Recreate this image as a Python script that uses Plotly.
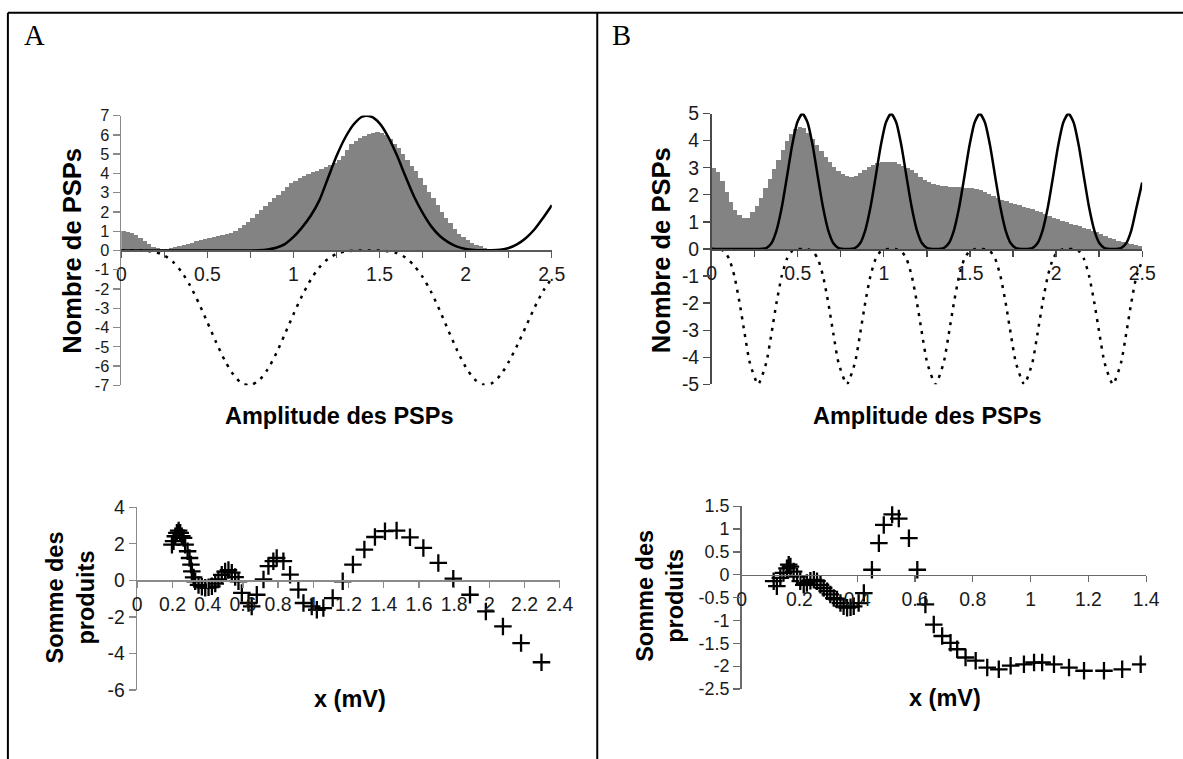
import plotly.graph_objects as go

W, H = 1183, 759

# ---------------- data ----------------
BIN = 0.025
HIST_A = [1.0, 0.98, 0.93, 0.82, 0.65, 0.48, 0.32, 0.2, 0.12, 0.09,
          0.1, 0.13, 0.17, 0.22, 0.28, 0.34, 0.41, 0.47, 0.53, 0.6,
          0.66, 0.7, 0.75, 0.8, 0.86, 0.93, 1.02, 1.15, 1.3, 1.48,
          1.68, 1.88, 2.08, 2.3, 2.5, 2.7, 2.9, 3.1, 3.3, 3.5,
          3.62, 3.75, 3.88, 3.97, 4.06, 4.15, 4.25, 4.35, 4.45, 4.55,
          4.7, 4.9, 5.2, 5.5, 5.7, 5.85, 5.95, 6.05, 6.1, 6.15,
          6.12, 6.0, 5.8, 5.55, 5.3, 5.0, 4.7, 4.4, 4.1, 3.75,
          3.4, 3.05, 2.7, 2.35, 2.0, 1.7, 1.4, 1.12, 0.88, 0.68,
          0.52, 0.4, 0.3, 0.21, 0.15, 0.1, 0.06, 0.04, 0.02, 0.01,
          0.01, 0.01, 0, 0, 0, 0, 0, 0, 0, 0]
HIST_B = [3.0, 2.85, 2.5, 2.1, 1.75, 1.45, 1.25, 1.13, 1.15, 1.35,
          1.6, 1.9, 2.25, 2.6, 2.95, 3.3, 3.65, 4.0, 4.25, 4.42,
          4.5, 4.45, 4.3, 4.08, 3.85, 3.6, 3.38, 3.2, 3.02, 2.88,
          2.76, 2.7, 2.67, 2.7, 2.8, 2.9, 3.02, 3.1, 3.16, 3.2,
          3.22, 3.22, 3.2, 3.15, 3.08, 3.0, 2.92, 2.8, 2.66, 2.55,
          2.46, 2.41, 2.37, 2.34, 2.31, 2.3, 2.29, 2.28, 2.27, 2.26,
          2.25, 2.22, 2.18, 2.12, 2.03, 1.94, 1.88, 1.82, 1.76, 1.71,
          1.66, 1.61, 1.56, 1.51, 1.46, 1.41, 1.36, 1.3, 1.23, 1.16,
          1.09, 1.03, 0.98, 0.93, 0.88, 0.83, 0.78, 0.73, 0.67, 0.61,
          0.55, 0.49, 0.42, 0.36, 0.31, 0.26, 0.21, 0.17, 0.14, 0.11]

CURVE_X_A = [0, 0.05, 0.1, 0.15, 0.2, 0.25, 0.3, 0.35, 0.4, 0.45,
             0.5, 0.55, 0.6, 0.65, 0.7, 0.75, 0.8, 0.85, 0.9, 0.95,
             1.0, 1.05, 1.1, 1.15, 1.2, 1.25, 1.3, 1.35, 1.4, 1.45,
             1.5, 1.55, 1.6, 1.65, 1.7, 1.75, 1.8, 1.85, 1.9, 1.95,
             2.0, 2.05, 2.1, 2.15, 2.2, 2.25, 2.3, 2.35, 2.4, 2.45, 2.5]
SOLID_A = [0, 0, 0, 0, 0, 0, 0, 0, 0, 0,
           0, 0, 0, 0, 0, 0.0, 0.01, 0.05, 0.14, 0.33,
           0.7, 1.2, 1.8, 2.6, 3.75, 4.9, 5.85, 6.55, 6.95, 6.95,
           6.6, 5.9, 4.95, 3.85, 2.8, 1.95, 1.25, 0.75, 0.42, 0.2,
           0.08, 0.03, 0.01, 0.01, 0.04, 0.13, 0.33, 0.65, 1.1, 1.7, 2.35]
DOTTED_A = [0, 0, 0, -0.02, -0.09, -0.26, -0.59, -1.11, -1.83, -2.73,
            -3.73, -4.75, -5.69, -6.43, -6.89, -6.99, -6.74, -6.17, -5.34, -4.34,
            -3.31, -2.35, -1.52, -0.88, -0.44, -0.18, -0.05, -0.01, 0, 0,
            0, -0.04, -0.14, -0.37, -0.78, -1.38, -2.17, -3.13, -4.17, -5.18,
            -6.05, -6.67, -6.96, -6.9, -6.49, -5.78, -4.91, -3.94, -2.96, -2.1,
            -1.45]

B_SOLID_X = [0, 0.1, 0.2, 0.27,
             0.317, 0.347, 0.377, 0.407, 0.437, 0.467, 0.497, 0.527, 0.557, 0.587, 0.617, 0.647, 0.677, 0.707, 0.737, 0.785,
             0.832, 0.862, 0.892, 0.922, 0.952, 0.982, 1.012, 1.042, 1.072, 1.102, 1.132, 1.162, 1.192, 1.222, 1.252, 1.3,
             1.347, 1.377, 1.407, 1.437, 1.467, 1.497, 1.527, 1.557, 1.587, 1.617, 1.647, 1.677, 1.707, 1.737, 1.767, 1.815,
             1.862, 1.892, 1.922, 1.952, 1.982, 2.012, 2.042, 2.072, 2.102, 2.132, 2.162, 2.192, 2.222, 2.252, 2.282, 2.33,
             2.377, 2.407, 2.437, 2.467, 2.5]
B_SOLID_Y = [0, 0, 0, 0,
             0.03, 0.21, 0.69, 1.53, 2.65, 3.81, 4.67, 5, 4.67, 3.81, 2.65, 1.53, 0.69, 0.21, 0.03, 0,
             0.03, 0.21, 0.69, 1.53, 2.65, 3.81, 4.67, 5, 4.67, 3.81, 2.65, 1.53, 0.69, 0.21, 0.03, 0,
             0.03, 0.21, 0.69, 1.53, 2.65, 3.81, 4.67, 5, 4.67, 3.81, 2.65, 1.53, 0.69, 0.21, 0.03, 0,
             0.03, 0.21, 0.69, 1.53, 2.65, 3.81, 4.67, 5, 4.67, 3.81, 2.65, 1.53, 0.69, 0.21, 0.03, 0,
             0.03, 0.21, 0.69, 1.53, 2.45]
B_DOT_X = [0, 0.012, 0.042, 0.072, 0.102, 0.132, 0.162, 0.192, 0.222, 0.27,
           0.317, 0.347, 0.377, 0.407, 0.437, 0.467, 0.497, 0.527, 0.557, 0.587, 0.617, 0.647, 0.677, 0.707, 0.737, 0.785,
           0.832, 0.862, 0.892, 0.922, 0.952, 0.982, 1.012, 1.042, 1.072, 1.102, 1.132, 1.162, 1.192, 1.222, 1.252, 1.3,
           1.347, 1.377, 1.407, 1.437, 1.467, 1.497, 1.527, 1.557, 1.587, 1.617, 1.647, 1.677, 1.707, 1.737, 1.767, 1.815,
           1.862, 1.892, 1.922, 1.952, 1.982, 2.012, 2.042, 2.072, 2.102, 2.132, 2.162, 2.192, 2.222, 2.252, 2.282, 2.33,
           2.377, 2.407, 2.437, 2.467, 2.5]
B_DOT_Y = [0, 0, -0.01, -0.08, -0.37, -1.0, -1.98, -3.14, -4.21, -5,
           -4.21, -3.14, -1.98, -1.0, -0.37, -0.08, -0.01, 0, -0.01, -0.08, -0.37, -1.0, -1.98, -3.14, -4.21, -5,
           -4.21, -3.14, -1.98, -1.0, -0.37, -0.08, -0.01, 0, -0.01, -0.08, -0.37, -1.0, -1.98, -3.14, -4.21, -5,
           -4.21, -3.14, -1.98, -1.0, -0.37, -0.08, -0.01, 0, -0.01, -0.08, -0.37, -1.0, -1.98, -3.14, -4.21, -5,
           -4.21, -3.14, -1.98, -1.0, -0.37, -0.08, -0.01, 0, -0.01, -0.08, -0.37, -1.0, -1.98, -3.14, -4.21, -5,
           -4.21, -3.14, -1.98, -1.0, -0.45]

SA_X = [0.197, 0.206, 0.216, 0.225, 0.235, 0.244, 0.253, 0.263, 0.272, 0.286, 0.297, 0.305, 0.31, 0.32, 0.329,
        0.348, 0.367, 0.386, 0.405, 0.424, 0.443, 0.461, 0.48, 0.499, 0.518, 0.537, 0.556, 0.575,
        0.594, 0.632, 0.65, 0.679, 0.717, 0.745, 0.773, 0.792, 0.83, 0.868,
        0.915, 0.944, 0.991, 1.02, 1.057, 1.11, 1.167, 1.225, 1.29, 1.35,
        1.407, 1.473, 1.549, 1.625, 1.71, 1.795, 1.89, 1.98, 2.077, 2.18, 2.296]
SA_Y = [1.95, 2.14, 2.41, 2.6, 2.72, 2.6, 2.41, 2.32, 1.95, 1.59, 1.22, 0.86, 0.49, 0.16, -0.05,
        -0.25, -0.35, -0.4, -0.38, -0.33, -0.18, 0.05, 0.3, 0.48, 0.56, 0.42, 0.18, -0.05,
        -0.69, -1.24, -1.43, -0.79, 0.05, 0.78, 1.05, 1.22, 1.05, 0.31,
        -0.51, -1.24, -1.43, -1.61, -1.52, -0.97, -0.05, 0.86, 1.68, 2.37,
        2.69, 2.72, 2.35, 1.77, 0.95, 0.09, -0.79, -1.7, -2.52, -3.43, -4.48]
SB_X = [0.111, 0.122, 0.134, 0.145, 0.157, 0.163, 0.169, 0.18, 0.192, 0.203,
        0.215, 0.226, 0.238, 0.25, 0.261, 0.273, 0.284, 0.296, 0.307, 0.319,
        0.33, 0.342, 0.353, 0.365, 0.377, 0.388, 0.405, 0.423,
        0.451, 0.475, 0.492, 0.521, 0.544, 0.579, 0.608, 0.636, 0.665, 0.694,
        0.723, 0.746, 0.775, 0.81, 0.85, 0.89, 0.931, 0.977, 1.012, 1.04,
        1.081, 1.133, 1.185, 1.254, 1.317, 1.381]
SB_Y = [-0.14, -0.25, -0.07, 0.04, 0.14, 0.22, 0.18, 0.07, -0.04, -0.14,
        -0.22, -0.18, -0.13, -0.11, -0.14, -0.22, -0.29, -0.36, -0.43, -0.51,
        -0.54, -0.62, -0.69, -0.72, -0.71, -0.69, -0.62, -0.4,
        0.11, 0.69, 1.09, 1.32, 1.23, 0.8, 0.11, -0.65, -1.09, -1.34,
        -1.49, -1.63, -1.81, -1.88, -2.03, -2.07, -1.99, -1.96, -1.92, -1.92,
        -1.96, -2.03, -2.1, -2.1, -2.07, -1.96]

TOP_X_TICKS = [0, 0.5, 1, 1.5, 2, 2.5]
TOP_X_MINOR = [0.25, 0.75, 1.25, 1.75, 2.25]
A_Y_TICKS = [7, 6, 5, 4, 3, 2, 1, 0, -1, -2, -3, -4, -5, -6, -7]
B_Y_TICKS = [5, 4, 3, 2, 1, 0, -1, -2, -3, -4, -5]
A_BOT_X_TICKS = [0, 0.2, 0.4, 0.6, 0.8, 1, 1.2, 1.4, 1.6, 1.8, 2, 2.2, 2.4]
A_BOT_Y_TICKS = [4, 2, 0, -2, -4, -6]
B_BOT_X_TICKS = [0, 0.2, 0.4, 0.6, 0.8, 1, 1.2, 1.4]
B_BOT_Y_TICKS = [1.5, 1, 0.5, 0, -0.5, -1, -1.5, -2, -2.5]


def lab(v):
    return "%g" % v


# observed page placement of the figure in the photographed window
SX, OX = 0.985, 4.6
SY, OY = 0.972, 10.3
FS = 1 / 0.978


def px_x(p):
    return ((p - OX) / SX) / W


def px_y(p):
    return 1 - ((p - OY) / SY) / H


# ---------------- figure ----------------
fig = go.Figure()
GRAY = "#838383"
centers_a = [BIN * (i + 0.5) for i in range(len(HIST_A))]
centers_b = [BIN * (i + 0.5) for i in range(len(HIST_B))]

LW = 2.5
fig.add_trace(go.Bar(x=centers_a, y=HIST_A, width=BIN, marker=dict(color=GRAY, line=dict(width=0)),
                     xaxis="x", yaxis="y", showlegend=False))
fig.add_trace(go.Scatter(x=CURVE_X_A, y=SOLID_A, mode="lines", line=dict(color="black", width=LW, shape="spline", smoothing=0.8),
                         xaxis="x", yaxis="y", showlegend=False))
fig.add_trace(go.Scatter(x=CURVE_X_A, y=DOTTED_A, mode="lines", line=dict(color="black", width=LW, dash="3px,6px", shape="spline", smoothing=0.8),
                         xaxis="x", yaxis="y", showlegend=False))

fig.add_trace(go.Bar(x=centers_b, y=HIST_B, width=BIN, marker=dict(color=GRAY, line=dict(width=0)),
                     xaxis="x2", yaxis="y2", showlegend=False))
fig.add_trace(go.Scatter(x=B_SOLID_X, y=B_SOLID_Y, mode="lines", line=dict(color="black", width=LW, shape="spline", smoothing=0.6),
                         xaxis="x2", yaxis="y2", showlegend=False))
fig.add_trace(go.Scatter(x=B_DOT_X, y=B_DOT_Y, mode="lines", line=dict(color="black", width=LW, dash="3px,6px", shape="spline", smoothing=0.6),
                         xaxis="x2", yaxis="y2", showlegend=False))

cross = dict(symbol="cross-thin", size=12.5, color="black", line=dict(width=2.3, color="black"))
fig.add_trace(go.Scatter(x=SA_X, y=SA_Y, mode="markers", marker=cross, xaxis="x3", yaxis="y3", showlegend=False))
fig.add_trace(go.Scatter(x=SB_X, y=SB_Y, mode="markers", marker=cross, xaxis="x4", yaxis="y4", showlegend=False))


def tf(size):
    return dict(family="Liberation Sans, Arial, sans-serif", size=size * FS, color="#1a1a1a")


def xaxis(dom, rng, ticks, pos, color, minor=None, fsize=19):
    d = dict(domain=[px_x(dom[0]), px_x(dom[1])], range=rng, anchor="free", position=px_y(pos),
             showline=True, linecolor=color, linewidth=1.6, ticks="outside", ticklen=6, tickwidth=1.3,
             tickcolor=color, tickmode="array", tickvals=ticks, ticktext=[lab(t) for t in ticks],
             showgrid=False, zeroline=False, tickfont=tf(fsize), fixedrange=True)
    if minor:
        d["minor"] = dict(tickvals=minor, ticks="outside", ticklen=6, tickwidth=1.3, tickcolor=color, showgrid=False)
    return d


def yaxis(dom, rng, ticks, anchor, color, fsize=19):
    return dict(domain=[px_y(dom[1]), px_y(dom[0])], range=rng, anchor=anchor,
                showline=True, linecolor=color, linewidth=1.6, ticks="outside", ticklen=7, tickwidth=1.3,
                tickcolor=color, tickmode="array", tickvals=ticks, ticktext=[lab(t) for t in ticks],
                showgrid=False, zeroline=False, tickfont=tf(fsize), fixedrange=True)


fig.update_layout(
    width=W, height=H, autosize=False,
    margin=dict(l=0, r=0, t=0, b=0),
    paper_bgcolor="white", plot_bgcolor="rgba(0,0,0,0)",
    bargap=0, barmode="overlay",
    xaxis=xaxis((121, 552), [0, 2.5], TOP_X_TICKS, 250, "#5a5a5a", TOP_X_MINOR),
    yaxis=yaxis((115, 385), [-7, 7], A_Y_TICKS, "x", "#8a8a8a", fsize=16),
    xaxis2=xaxis((712, 1143), [0, 2.5], TOP_X_TICKS, 249, "#4a4a4a", TOP_X_MINOR),
    yaxis2=yaxis((113, 384), [-5, 5], B_Y_TICKS, "x2", "#4a4a4a"),
    xaxis3=xaxis((137, 560), [0, 2.4], A_BOT_X_TICKS, 580, "#8a8a8a"),
    yaxis3=yaxis((507, 690), [-6, 4], A_BOT_Y_TICKS, "x3", "#8a8a8a"),
    xaxis4=xaxis((742, 1147), [0, 1.4], B_BOT_X_TICKS, 574.6, "#6a6a6a"),
    yaxis4=yaxis((506, 689), [-2.5, 1.5], B_BOT_Y_TICKS, "x4", "#6a6a6a", fsize=17.5),
)

# frame lines of the figure panels
for (x0, y0, x1, y1) in [(7.5, 12, 1190, 12), (7.5, 12, 7.5, 770), (597.5, 12, 597.5, 770)]:
    fig.add_shape(type="line", xref="paper", yref="paper", x0=px_x(x0), y0=px_y(y0), x1=px_x(x1), y1=px_y(y1),
                  line=dict(color="black", width=2))

BOLD = dict(family="Liberation Sans, Arial, sans-serif", size=23 * FS, color="black")


def ann(text, x, y, angle=0, font=BOLD, xanchor="center", yanchor="middle"):
    fig.add_annotation(text=text, x=px_x(x), y=px_y(y), xref="paper", yref="paper", showarrow=False,
                       textangle=angle, font=font, xanchor=xanchor, yanchor=yanchor)


SERIF = dict(family="Liberation Serif, Times New Roman, serif", size=28 * FS, color="black")
ann("A", 34, 34, font=SERIF)
ann("B", 622, 34, font=SERIF)

YT = dict(family="Liberation Sans, Arial, sans-serif", size=25 * FS, color="black")
ann("<b>Nombre de PSPs</b>", 72, 250, angle=-90, font=YT)
ann("<b>Nombre de PSPs</b>", 662, 250, angle=-90, font=YT)
ann("<b>Amplitude des PSPs</b>", 339, 416)
ann("<b>Amplitude des PSPs</b>", 928, 416)
ann("<b>Somme des<br>produits</b>", 70, 597, angle=-90)
ann("<b>Somme des<br>produits</b>", 660, 596, angle=-90)
ann("<b>x (mV)</b>", 350, 699)
ann("<b>x (mV)</b>", 946, 698)

fig.write_html("out.html", config={"displayModeBar": False, "staticPlot": True},
               post_script="document.body.style.margin='0';document.body.style.overflow='hidden';")
